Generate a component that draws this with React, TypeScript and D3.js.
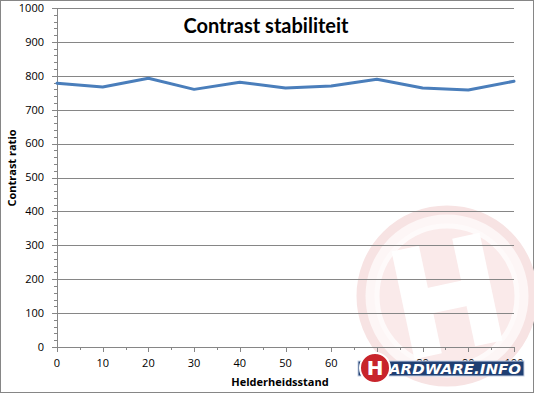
import React from 'react';
import * as d3 from 'd3';

const brightness = [0, 10, 20, 30, 40, 50, 60, 70, 80, 90, 100];
const contrast = [778, 767, 793, 760, 781, 764, 770, 790, 764, 758, 784];
const yTicks = [0, 100, 200, 300, 400, 500, 600, 700, 800, 900, 1000];
const xTicks = [0, 10, 20, 30, 40, 50, 60, 70, 80, 90, 100];

const width = 534;
const height = 393;
const left = 57;
const right = 514;
const top = 8;
const bottom = 347;

export default function App() {
  const x = d3.scaleLinear().domain([0, 100]).range([left, right]);
  const y = d3.scaleLinear().domain([0, 1000]).range([bottom, top]);

  const line = d3.line<number>()
    .x((d, i) => x(brightness[i]))
    .y(d => y(d));

  const yMinor = d3.range(0, 1001, 20).filter(v => v % 100 !== 0);
  const xMinor = d3.range(5, 100, 10);
  const font = "'Open Sans', sans-serif";

  return (
    <svg width={width} height={height} style={{position: 'absolute', left: 0, top: 0}}
         fontFamily={font}>
      <rect x={0.5} y={0.5} width={width - 1} height={height - 1} fill="#fff" stroke="#868686" />

      {/* watermark */}
      <g>
        <circle cx={447} cy={296} r={86} fill="#fdf6f6" stroke="#f7e3e3" strokeWidth={9} />
        <circle cx={447} cy={296} r={70} fill="#faeaea" stroke="#fefafa" strokeWidth={5} />
        <g transform="translate(447,296) rotate(-12)" fill="#ffffff">
          <rect x={-45} y={-55} width={28} height={110} />
          <rect x={17} y={-55} width={28} height={110} />
          <rect x={-20} y={-12} width={40} height={26} />
        </g>
      </g>

      {yTicks.map(t => (
        <line key={'g' + t} x1={left} x2={right} y1={Math.round(y(t)) + 0.5} y2={Math.round(y(t)) + 0.5}
              stroke="#868686" />
      ))}

      <line x1={left + 0.5} x2={left + 0.5} y1={top} y2={bottom} stroke="#868686" />
      {yTicks.map(t => (
        <line key={'yt' + t} x1={left - 5} x2={left} y1={Math.round(y(t)) + 0.5} y2={Math.round(y(t)) + 0.5}
              stroke="#868686" />
      ))}
      {yMinor.map(t => (
        <line key={'ym' + t} x1={left - 3} x2={left} y1={Math.round(y(t)) + 0.5} y2={Math.round(y(t)) + 0.5}
              stroke="#868686" />
      ))}
      {xTicks.map(t => (
        <line key={'xt' + t} x1={Math.round(x(t)) + 0.5} x2={Math.round(x(t)) + 0.5} y1={bottom} y2={bottom + 5}
              stroke="#868686" />
      ))}
      {xMinor.map(t => (
        <line key={'xm' + t} x1={Math.round(x(t)) + 0.5} x2={Math.round(x(t)) + 0.5} y1={bottom} y2={bottom + 3}
              stroke="#868686" />
      ))}

      {yTicks.map(t => (
        <text key={'yl' + t} x={44} y={y(t)} dy="0.35em" textAnchor="end" fontSize={11}>{t}</text>
      ))}
      {xTicks.map(t => (
        <text key={'xl' + t} x={x(t)} y={367} textAnchor="middle" fontSize={11}>{t}</text>
      ))}

      <path d={line(contrast) || ''} fill="none" stroke="#4a7ebb" strokeWidth={3}
            strokeLinejoin="round" strokeLinecap="round" />

      <text x={266} y={33} textAnchor="middle" fontSize={20} fontWeight="bold" fontFamily="Lato, sans-serif">
        Contrast stabiliteit
      </text>
      <text transform="translate(16,168) rotate(-90)" textAnchor="middle" fontSize={11}
            fontWeight="bold">Contrast ratio</text>
      <text x={280} y={386} textAnchor="middle" fontSize={11} fontWeight="bold">Helderheidsstand</text>

      {/* logo */}
      <rect x={358} y={361} width={166} height={15} fill="#1f3f73" stroke="#c9d4e6" strokeWidth={1} />
      <text x={389} y={374} fontSize={14} fontWeight="bold" fill="#fff" fontStyle="italic"
            fontFamily="'DejaVu Sans', sans-serif" textLength={132} lengthAdjust="spacingAndGlyphs">ARDWARE.INFO</text>
      <circle cx={375} cy={368} r={15} fill="#c8242b" stroke="#ffffff" strokeWidth={2} />
      <text x={375} y={375} textAnchor="middle" fontSize={20} fontWeight="bold" fill="#fff"
            fontFamily="'DejaVu Sans', sans-serif">H</text>
    </svg>
  );
}
